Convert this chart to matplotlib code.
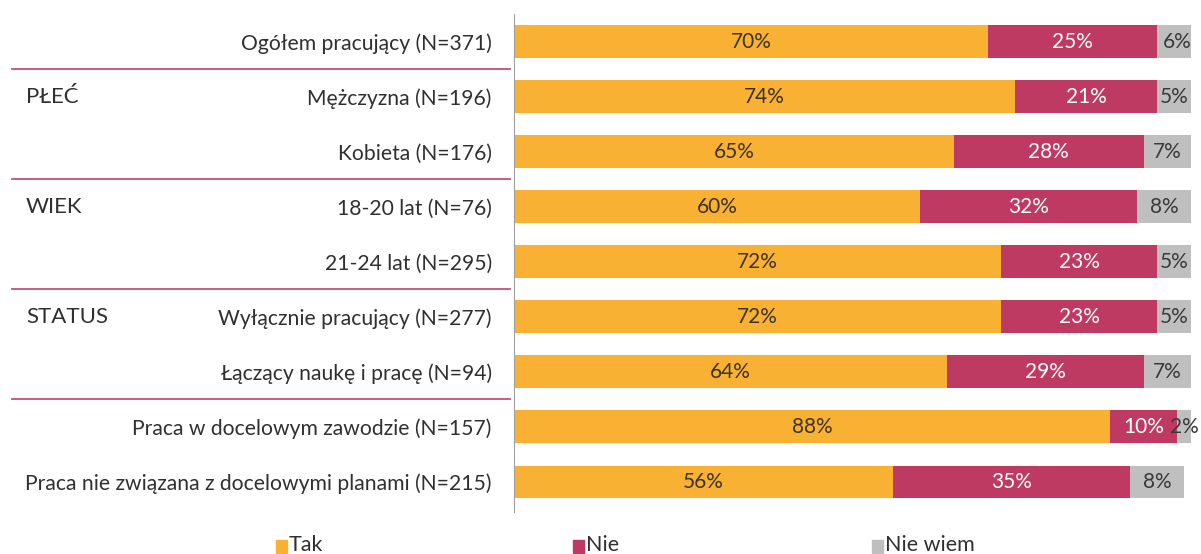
import numpy as np
import matplotlib.pyplot as plt
from matplotlib.patches import Rectangle
from matplotlib.lines import Line2D
import matplotlib.transforms as mtransforms

plt.rcParams['font.family'] = ['Lato', 'DejaVu Sans']

# survey results, percent
categories = ['Ogółem pracujący (N=371)', 'Mężczyzna (N=196)', 'Kobieta (N=176)',
              '18-20 lat (N=76)', '21-24 lat (N=295)', 'Wyłącznie pracujący (N=277)',
              'Łączący naukę i pracę (N=94)', 'Praca w docelowym zawodzie (N=157)',
              'Praca nie związana z docelowymi planami (N=215)']
tak = [70, 74, 65, 60, 72, 72, 64, 88, 56]
nie = [25, 21, 28, 32, 23, 23, 29, 10, 35]
nie_wiem = [6, 5, 7, 8, 5, 5, 7, 2, 8]
series_names = ['Tak', 'Nie', 'Nie wiem']
groups = [('PŁEĆ', 1), ('WIEK', 3), ('STATUS', 5)]
separators = [0.5, 2.5, 4.5, 6.5]

colors = ['#F8B133', '#BF3A62', '#BFBFBF']
text_colors = ['#3D3320', 'white', '#3A3A3A']

W, H = 1201, 554
fig = plt.figure(figsize=(W / 100, H / 100), dpi=100)
ax = fig.add_axes([514 / W, 1 - 512 / H, 677 / W, 498 / H])

y = np.arange(len(categories))
left = np.zeros(len(categories))
for vals, c, tc in zip([tak, nie, nie_wiem], colors, text_colors):
    vals = np.array(vals)
    ax.barh(y, vals, left=left, height=0.59, color=c)
    for yi, l, v in zip(y, left, vals):
        ax.text(l + v / 2, yi, f'{v}%', ha='center', va='center',
                color=tc, fontsize=15, clip_on=False)
    left += vals

ax.set_xlim(0, 100)
ax.set_ylim(8.55, -0.5)
ax.set_xticks([])
ax.set_yticks(y)
ax.set_yticklabels(categories, fontsize=15.2, color='#303030')
ax.tick_params(axis='y', length=0, pad=16)
for s in ['top', 'right', 'bottom']:
    ax.spines[s].set_visible(False)
ax.spines['left'].set_color('#A0A0A0')

# group labels and separator lines on the left
trans = mtransforms.blended_transform_factory(fig.transFigure, ax.transData)
for name, row in groups:
    fig.text(26 / W, row, name, transform=trans, fontsize=16, color='#303030',
             va='center', ha='left')
for s in separators:
    fig.add_artist(Line2D([12 / W, 510 / W], [s, s], transform=trans,
                          color='#C4507A', lw=1.3))

# legend
legend_x = [276, 573, 872]
for name, c, lx in zip(series_names, colors, legend_x):
    fig.add_artist(Rectangle((lx / W, 1 - 553 / H), 11 / W, 13 / H,
                             transform=fig.transFigure, color=c))
    fig.text((lx + 13) / W, 1 - 545 / H, name, fontsize=15.5, color='#303030',
             va='center', ha='left')

fig.savefig('out.png', dpi=100)
